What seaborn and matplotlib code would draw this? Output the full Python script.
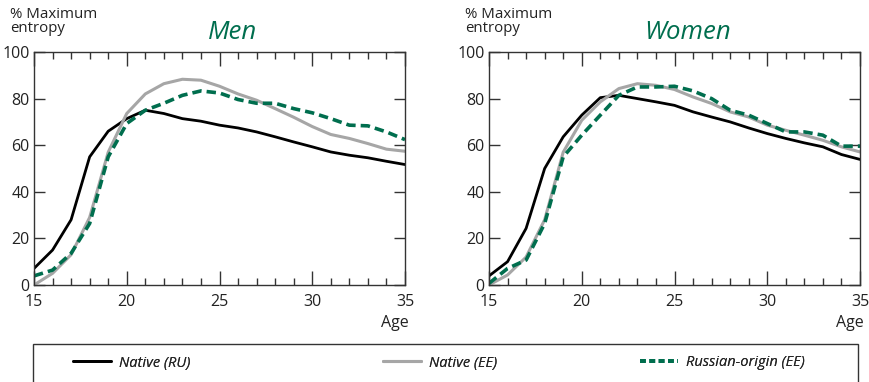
import numpy as np
import pandas as pd
import matplotlib
matplotlib.use("Agg")
import matplotlib.pyplot as plt
import seaborn as sns
from matplotlib.patches import Rectangle
from matplotlib.lines import Line2D
from matplotlib.ticker import MultipleLocator

ages = list(range(15, 36))

men_native_ru = [7.1, 15, 28, 55, 66, 71.4, 75, 73.6, 71.4, 70.3, 68.6, 67.4, 65.7, 63.6, 61.4, 59.3, 57.1, 55.7, 54.6, 53.1, 51.7]
men_native_ee = [0, 5, 13, 29, 57, 73.6, 82, 86.4, 88.3, 87.9, 85.3, 82, 79.3, 75.7, 72, 68, 64.6, 62.9, 60.7, 58.3, 57.4]
men_russian_ee = [3.9, 6.4, 13.6, 26.4, 55, 69.3, 75, 78, 81.4, 83.3, 82.4, 79.6, 78, 78, 75.7, 73.9, 71.4, 68.6, 68.3, 65.7, 62.4]

women_native_ru = [3.9, 10, 24.3, 50, 63.6, 72.9, 80.4, 81.4, 80, 78.6, 77.1, 74.3, 72.1, 70, 67.4, 65, 62.9, 61, 59.3, 56, 53.9]
women_native_ee = [0, 4.3, 12, 28, 57, 70.7, 78.6, 84.3, 86.4, 85.7, 83.9, 80.7, 77.9, 74.3, 72.1, 68.6, 66.4, 64.3, 62.1, 59.3, 57.1]
women_russian_ee = [0.7, 7.1, 10.7, 26.4, 55, 64.3, 72.9, 81.4, 85, 85, 85.3, 83.3, 80, 75, 72.9, 69.3, 65.7, 65.7, 64.3, 59.6, 59.6]

series_names = ["Native (RU)", "Native (EE)", "Russian-origin (EE)"]
panel_titles = ["Men", "Women"]
y_label = "% Maximum\nentropy"
x_label = "Age"

GREEN = "#006e4e"
colors = {"Native (RU)": "#000000", "Native (EE)": "#a6a6a6", "Russian-origin (EE)": GREEN}
widths = {"Native (RU)": 2.0, "Native (EE)": 2.2, "Russian-origin (EE)": 2.6}
dashes = {"Native (RU)": "", "Native (EE)": "", "Russian-origin (EE)": (2.6, 1.4)}

sns.set_theme(style="white")
plt.rcParams["font.family"] = ["Open Sans", "DejaVu Sans"]

def make_df(a, b, c):
    rows = []
    for name, vals in zip(series_names, [a, b, c]):
        for x, v in zip(ages, vals):
            rows.append({"Age": x, "value": v, "series": name})
    return pd.DataFrame(rows)

dfs = [make_df(men_native_ru, men_native_ee, men_russian_ee),
       make_df(women_native_ru, women_native_ee, women_russian_ee)]

fig = plt.figure(figsize=(8.7, 3.82), dpi=100)
lefts = [34 / 870, 489 / 870]
for i, (df, title) in enumerate(zip(dfs, panel_titles)):
    ax = fig.add_axes([lefts[i], 1 - 285 / 382, 371 / 870, 233 / 382])
    sns.lineplot(data=df, x="Age", y="value", hue="series", style="series",
                 palette=colors, dashes=dashes, size="series", sizes=widths,
                 ax=ax, legend=False)
    ax.set_xlim(15, 35)
    ax.set_ylim(0, 100)
    ax.set_xticks([15, 20, 25, 30, 35])
    ax.xaxis.set_minor_locator(MultipleLocator(1))
    ax.set_yticks([0, 20, 40, 60, 80, 100])
    ax.tick_params(axis="both", which="major", direction="in", length=10, width=1,
                   color="#333333", labelsize=11.5, top=True, right=True, bottom=True, left=True,
                   pad=6.5, labelcolor="#222222")
    ax.tick_params(axis="y", which="major", length=8, pad=3)
    ax.tick_params(axis="x", which="minor", direction="in", length=5, width=1,
                   color="#333333", top=True, bottom=True)
    for s in ax.spines.values():
        s.set_color("#333333")
        s.set_linewidth(1)
    ax.set_xlabel("")
    ax.set_ylabel("")
    ax.text(1.01, -0.13, x_label, transform=ax.transAxes, ha="right", va="top",
            fontsize=11.5, color="#222222")
    ax.text(-0.065, 1.07, y_label, transform=ax.transAxes, ha="left", va="bottom",
            fontsize=10.8, color="#222222", linespacing=0.92)
    ax.text(0.535, 1.03, title, transform=ax.transAxes, ha="center", va="bottom",
            fontsize=18.5, style="italic", color=GREEN)

# legend box
fig.patches.append(Rectangle((33 / 870, -0.05), (858 - 33) / 870, 1 - 344 / 382 + 0.05,
                             transform=fig.transFigure, fill=False, edgecolor="#333333",
                             linewidth=1))
handles = [Line2D([], [], color=colors[series_names[0]], lw=widths[series_names[0]]),
           Line2D([], [], color=colors[series_names[1]], lw=widths[series_names[1]]),
           Line2D([], [], color=GREEN, lw=2.8, linestyle=(0, (1.5, 0.9)))]
xs = [70 / 870, 380 / 870, 637 / 870]
for h, n, x in zip(handles, series_names, xs):
    leg = fig.legend([h], [n], loc="center left", bbox_to_anchor=(x - 0.012, 1 - 363 / 382),
                     frameon=False, handlelength=2.6, handletextpad=0.6,
                     prop={"style": "italic", "size": 10.5})
    fig.add_artist(leg)

fig.savefig("out.png", dpi=100)
